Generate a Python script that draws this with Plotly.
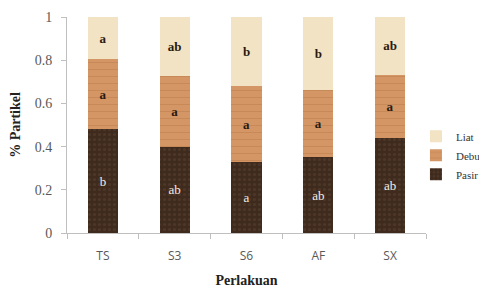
import plotly.graph_objects as go

categories = ["TS", "S3", "S6", "AF", "SX"]
pasir = [0.48, 0.40, 0.327, 0.35, 0.44]
debu = [0.325, 0.325, 0.352, 0.31, 0.293]
liat = [0.195, 0.275, 0.321, 0.34, 0.267]
pasir_lbl = ["b", "ab", "a", "ab", "ab"]
debu_lbl = ["a", "a", "a", "a", "a"]
liat_lbl = ["a", "ab", "b", "b", "ab"]
y_ticks = [0, 0.2, 0.4, 0.6, 0.8, 1]
y_tick_text = ["0", "0.2", "0.4", "0.6", "0.8", "1"]

serif = "Liberation Serif"

fig = go.Figure()
fig.add_trace(go.Bar(
    x=categories, y=pasir, name="Pasir", text=pasir_lbl, legendgroup="p",
    marker=dict(color="#3F2B1D", line=dict(width=0),
                pattern=dict(shape=".", fgcolor="#5A4232", bgcolor="#3F2B1D", size=5, solidity=0.3)),
    textposition="inside", insidetextanchor="middle", textangle=0,
    texttemplate="%{text}",
    textfont=dict(family=serif, size=13, color="#F2ECE4"),
))
fig.add_trace(go.Bar(
    x=categories, y=debu, name="Debu", text=debu_lbl, legendgroup="d",
    marker=dict(color="#D39664", line=dict(width=0),
                pattern=dict(shape="-", fgcolor="#BC7C4C", bgcolor="#D39664", size=7, solidity=0.15)),
    textposition="inside", insidetextanchor="middle", textangle=0,
    texttemplate="<b>%{text}</b>",
    textfont=dict(family=serif, size=13, color="#2A1A10"),
))
fig.add_trace(go.Bar(
    x=categories, y=liat, name="Liat", text=liat_lbl, legendgroup="l",
    marker=dict(color="#F1E3C3", line=dict(width=0)),
    textposition="inside", insidetextanchor="middle", textangle=0,
    texttemplate="<b>%{text}</b>",
    textfont=dict(family=serif, size=13, color="#2A1A10"),
))

fig.update_layout(
    width=479, height=280,
    barmode="stack", bargap=0.58,
    plot_bgcolor="white", paper_bgcolor="white",
    margin=dict(l=59, r=61, t=9, b=55, autoexpand=False),
    legend=dict(
        traceorder="reversed", x=0.972, xanchor="left", y=0.36, yanchor="middle",
        font=dict(family=serif, size=11, color="#333333"),
        tracegroupgap=18, bgcolor="rgba(0,0,0,0)",
    ),
    xaxis=dict(
        showline=True, linecolor="#BFBFBF", linewidth=1,
        ticks="outside", tickson="boundaries", ticklen=5, tickcolor="#BFBFBF",
        ticklabelstandoff=12,
        tickfont=dict(family="Open Sans", size=12, color="#595959"),
        title=dict(text="<b>Perlakuan</b>", font=dict(family=serif, size=14, color="#222222"), standoff=16),
    ),
    yaxis=dict(
        range=[0, 1], tickvals=y_ticks, ticktext=y_tick_text,
        showline=True, linecolor="#BFBFBF", linewidth=1, showgrid=False, zeroline=False,
        ticks="outside", ticklen=5, tickcolor="#BFBFBF",
        ticklabelstandoff=6,
        tickfont=dict(family=serif, size=14, color="#595959"),
        title=dict(text="<b>% Partikel</b>", font=dict(family=serif, size=14, color="#222222"), standoff=14),
    ),
)

fig.write_html("out.html")
